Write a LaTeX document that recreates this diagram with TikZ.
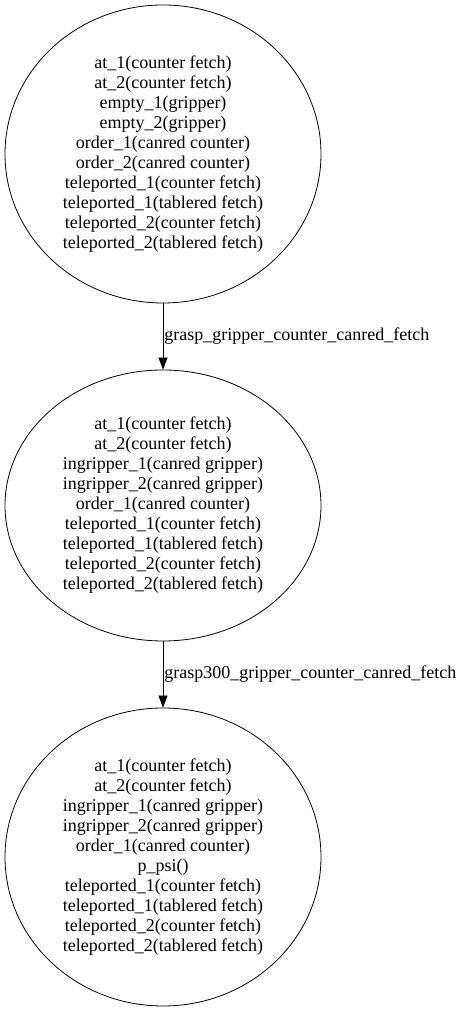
\documentclass[tikz,border=0pt]{standalone}
\usepackage{fontspec}
\setmainfont{Liberation Serif}
\usetikzlibrary{shapes.geometric,arrows.meta}

\tikzset{
  state/.style={draw,ellipse,align=center,inner sep=0pt,minimum width=316pt,line width=0.8pt},
  trans/.style={-{Triangle[length=12pt,width=9pt]},line width=0.8pt},
}

\begin{document}
\begin{tikzpicture}[x=1pt,y=1pt]
\fontsize{18}{20}\selectfont
\useasboundingbox (0,0) rectangle (461,1012);
\node[state,minimum height=298pt] (s0) at (163,858) {at\_1(counter fetch)\\at\_2(counter fetch)\\empty\_1(gripper)\\empty\_2(gripper)\\order\_1(canred counter)\\order\_2(canred counter)\\teleported\_1(counter fetch)\\teleported\_1(tablered fetch)\\teleported\_2(counter fetch)\\teleported\_2(tablered fetch)};
\node[state,minimum height=271pt] (s1) at (163,506.5) {at\_1(counter fetch)\\at\_2(counter fetch)\\ingripper\_1(canred gripper)\\ingripper\_2(canred gripper)\\order\_1(canred counter)\\teleported\_1(counter fetch)\\teleported\_1(tablered fetch)\\teleported\_2(counter fetch)\\teleported\_2(tablered fetch)};
\node[state,minimum height=298pt] (s2) at (163,155) {at\_1(counter fetch)\\at\_2(counter fetch)\\ingripper\_1(canred gripper)\\ingripper\_2(canred gripper)\\order\_1(canred counter)\\p\_psi()\\teleported\_1(counter fetch)\\teleported\_1(tablered fetch)\\teleported\_2(counter fetch)\\teleported\_2(tablered fetch)};
% transitions
\draw[trans] (s0) -- node[right,inner sep=1pt] {grasp\_gripper\_counter\_canred\_fetch} (s1);
\draw[trans] (s1) -- node[right,inner sep=1pt] {grasp300\_gripper\_counter\_canred\_fetch} (s2);
\end{tikzpicture}
\end{document}
